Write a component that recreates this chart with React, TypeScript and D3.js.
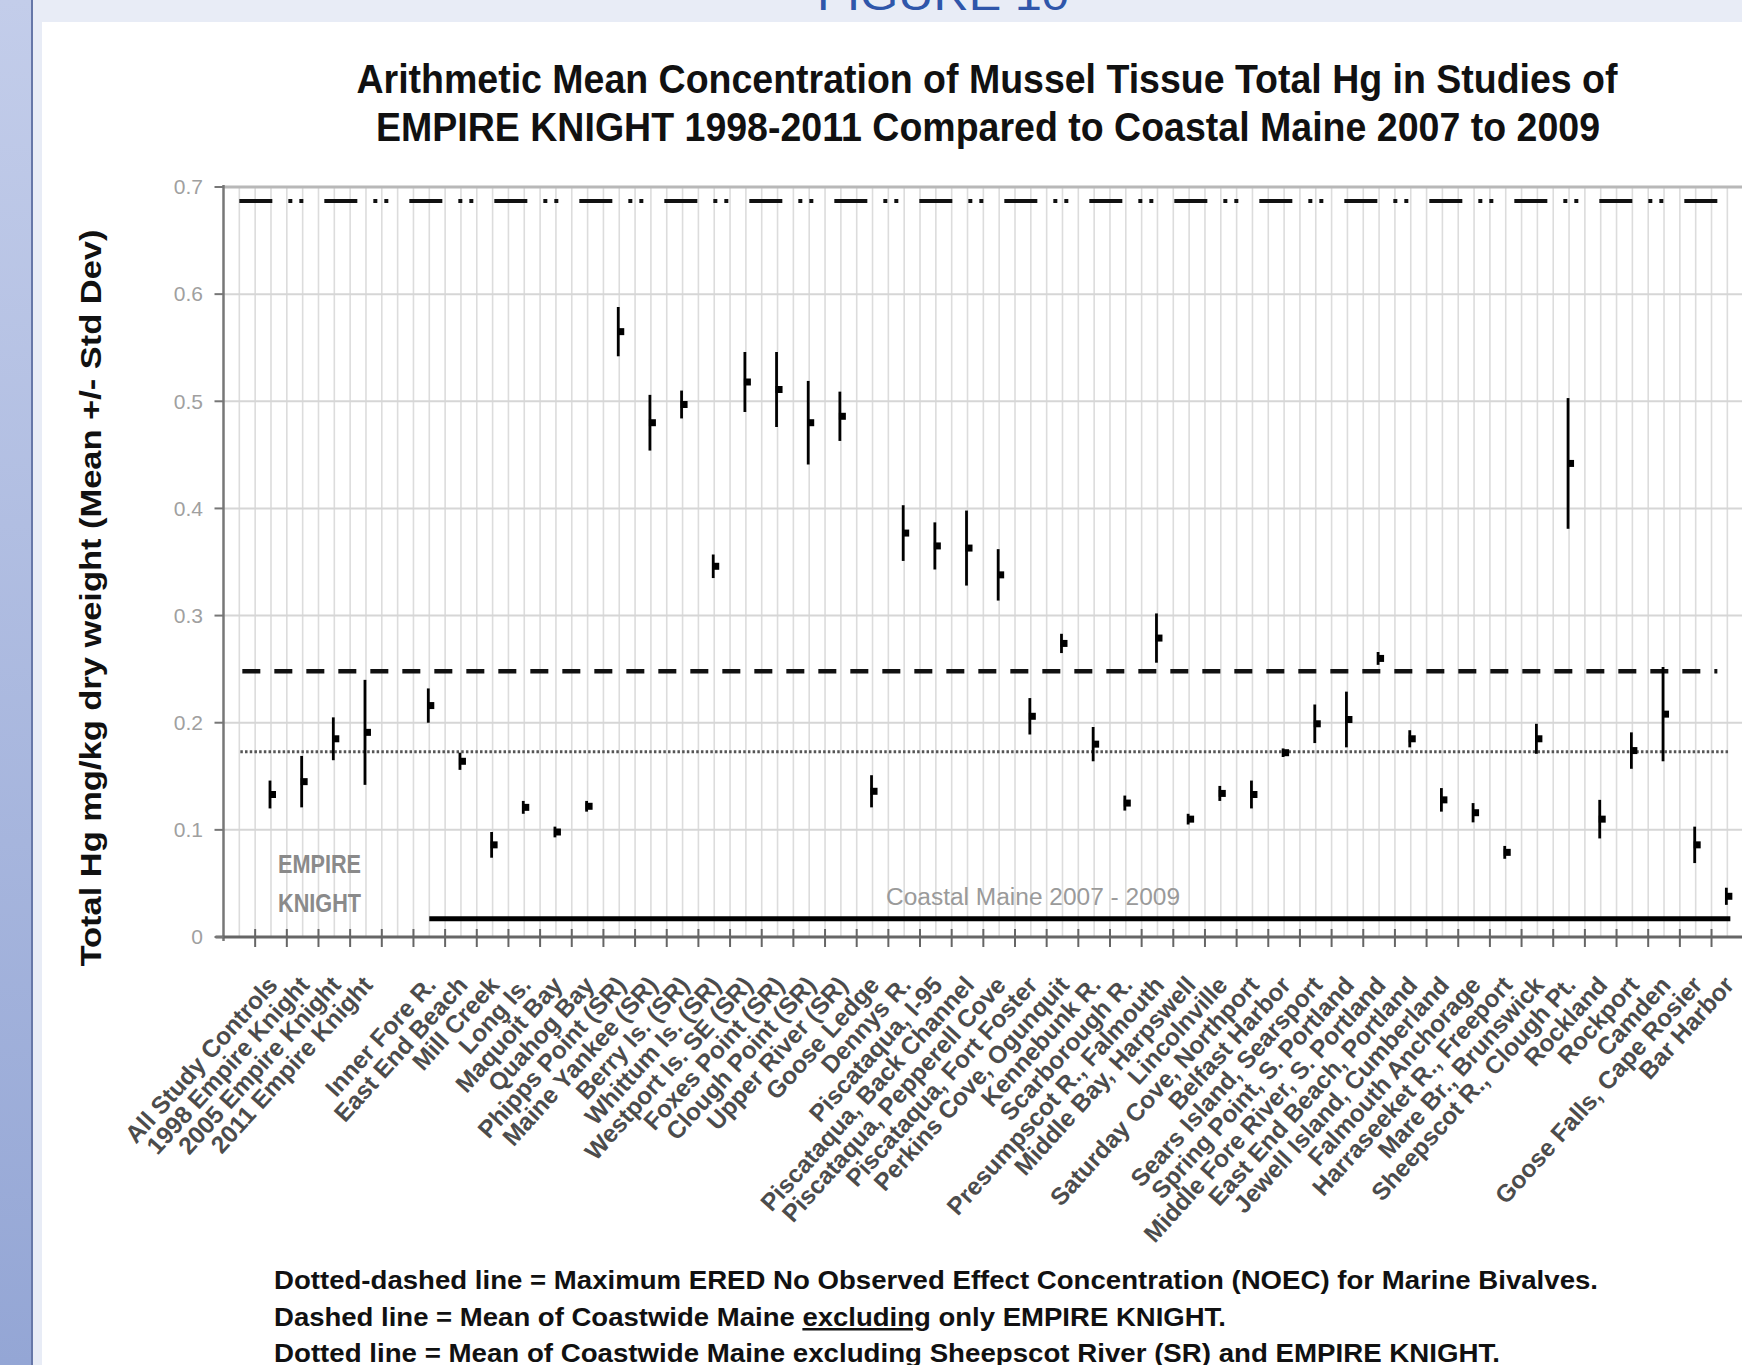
import React, { useRef, useEffect } from "react";
import * as d3 from "d3";

// Empire Knight study group (left block)
const empireSites = ["All Study Controls", "1998 Empire Knight", "2005 Empire Knight", "2011 Empire Knight"];
const empireMeans = [0.133, 0.145, 0.185, 0.191];
const empireSds = [0.013, 0.024, 0.02, 0.049];

// Coastal Maine 2007 - 2009 sites
const coastalSites = [
  "Inner Fore R.", "East End Beach", "Mill Creek", "Long Is.", "Maquoit Bay", "Quahog Bay",
  "Phipps Point (SR)", "Maine Yankee (SR)", "Berry Is. (SR)", "Whittum Is. (SR)", "Westport Is. SE (SR)",
  "Foxes Point (SR)", "Clough Point (SR)", "Upper River (SR)", "Goose Ledge", "Dennys R.",
  "Piscataqua, I-95", "Piscataqua, Back Channel", "Piscataqua, Pepperell Cove", "Piscataqua, Fort Foster",
  "Perkins Cove, Ogunquit", "Kennebunk R.", "Scarborough R.", "Presumpscot R., Falmouth",
  "Middle Bay, Harpswell", "Lincolnville", "Saturday Cove, Northport", "Belfast Harbor",
  "Sears Island, Searsport", "Spring Point, S. Portland", "Middle Fore River, S. Portland",
  "East End Beach, Portland", "Jewell Island, Cumberland", "Falmouth Anchorage", "Harraseeket R., Freeport",
  "Mare Br., Brunswick", "Sheepscot R., Clough Pt.", "Rockland", "Rockport", "Camden",
  "Goose Falls, Cape Rosier", "Bar Harbor",
];
const coastalMeans = [
  0.216, 0.164, 0.086, 0.121, 0.098, 0.122,
  0.565, 0.48, 0.497, 0.346, 0.518,
  0.511, 0.48, 0.486, 0.136, 0.377,
  0.365, 0.363, 0.338, 0.206,
  0.274, 0.18, 0.125, 0.279,
  0.11, 0.134, 0.133, 0.172,
  0.199, 0.203, 0.26,
  0.185, 0.128, 0.116, 0.079,
  0.185, 0.442, 0.11, 0.174, 0.208,
  0.086, 0.038,
];
const coastalSds = [
  0.016, 0.008, 0.012, 0.006, 0.005, 0.005,
  0.023, 0.026, 0.013, 0.011, 0.028,
  0.035, 0.039, 0.023, 0.015, 0.026,
  0.022, 0.035, 0.024, 0.017,
  0.009, 0.016, 0.007, 0.023,
  0.005, 0.007, 0.013, 0.004,
  0.018, 0.026, 0.006,
  0.008, 0.011, 0.009, 0.006,
  0.014, 0.061, 0.018, 0.017, 0.044,
  0.017, 0.008,
];

const yTicks = [0, 0.1, 0.2, 0.3, 0.4, 0.5, 0.6, 0.7];

// reference levels
const noecLevel = 0.687;
const meanExclEK = 0.248;
const meanExclSR = 0.173;
const coastalBarLevel = 0.017;

const titleLines = [
  "Arithmetic Mean Concentration of Mussel Tissue Total Hg in Studies of",
  "EMPIRE KNIGHT 1998-2011 Compared to Coastal Maine 2007 to 2009",
];

const FONT = "'Liberation Sans', Arial, sans-serif";

const App: React.FC = () => {
  const ref = useRef<SVGSVGElement | null>(null);

  useEffect(() => {
    if (!ref.current) return;
    const svg = d3.select(ref.current);
    svg.selectAll("*").remove();

    const W = 1742;
    const H = 1365;

    // page frame: blue side bar + light header band
    const defs = svg.append("defs");
    const grad = defs.append("linearGradient").attr("id", "sidebar").attr("x1", 0).attr("y1", 0).attr("x2", 0).attr("y2", 1);
    grad.append("stop").attr("offset", "0%").attr("stop-color", "#c3cdea");
    grad.append("stop").attr("offset", "100%").attr("stop-color", "#94a6d5");

    svg.append("rect").attr("width", W).attr("height", H).attr("fill", "#ffffff");
    svg.append("rect").attr("x", 33).attr("y", 0).attr("width", W - 33).attr("height", 22).attr("fill", "#e8ecf6");
    svg.append("rect").attr("x", 33).attr("y", 0).attr("width", 9).attr("height", H).attr("fill", "#e8ecf6");
    svg.append("rect").attr("x", 0).attr("y", 0).attr("width", 31).attr("height", H).attr("fill", "url(#sidebar)");
    svg.append("rect").attr("x", 31).attr("y", 0).attr("width", 2).attr("height", H).attr("fill", "#6677a8");

    svg.append("text")
      .attr("x", 943).attr("y", 10)
      .attr("text-anchor", "middle")
      .attr("font-family", FONT).attr("font-size", 42)
      .attr("fill", "#2f56aa")
      .attr("textLength", 252).attr("lengthAdjust", "spacingAndGlyphs")
      .text("FIGURE 10");

    // title
    const titleSpec = [
      { y: 93, len: 1261, cx: 987 },
      { y: 141, len: 1224, cx: 988 },
    ];
    titleLines.forEach((t, i) => {
      svg.append("text")
        .attr("x", titleSpec[i].cx).attr("y", titleSpec[i].y)
        .attr("text-anchor", "middle")
        .attr("font-family", FONT).attr("font-weight", "bold").attr("font-size", 40)
        .attr("fill", "#111")
        .attr("textLength", titleSpec[i].len).attr("lengthAdjust", "spacingAndGlyphs")
        .text(t);
    });

    // scales
    const slots = ["gap0", ...empireSites, "gap1", ...coastalSites];
    const x = d3.scaleBand<string>().domain(slots).range([223.5, 223.5 + slots.length * 31.66]).padding(0);
    const y = d3.scaleLinear().domain([0, 0.7]).range([937, 187]);
    const bw = x.bandwidth();
    const cx = (s: string) => (x(s) as number) + bw / 2;
    const x0 = x.range()[0];
    const x1 = x.range()[1];

    const plot = svg.append("g");

    // vertical gridlines every half category
    const vLines: number[] = [];
    slots.forEach((s) => {
      vLines.push(x(s) as number);
      vLines.push(cx(s));
    });
    plot.append("g").selectAll("line").data(vLines.slice(1)).join("line")
      .attr("x1", (d) => d).attr("x2", (d) => d)
      .attr("y1", y(0.7)).attr("y2", y(0))
      .attr("stroke", "#dcdcdc").attr("stroke-width", 1.6);

    // horizontal gridlines
    plot.append("g").selectAll("line").data(yTicks.slice(1)).join("line")
      .attr("x1", x0).attr("x2", x1)
      .attr("y1", (d) => y(d)).attr("y2", (d) => y(d))
      .attr("stroke", (d) => (d === 0.7 ? "#b8b8b8" : "#d6d6d6"))
      .attr("stroke-width", (d) => (d === 0.7 ? 3 : 2));

    // axes
    plot.append("line").attr("x1", x0).attr("x2", x0).attr("y1", y(0.7) - 2).attr("y2", y(0) + 4)
      .attr("stroke", "#777").attr("stroke-width", 2.5);
    plot.append("line").attr("x1", x0 - 8).attr("x2", x1).attr("y1", y(0)).attr("y2", y(0))
      .attr("stroke", "#666").attr("stroke-width", 3);

    plot.append("g").selectAll("line").data(yTicks).join("line")
      .attr("x1", x0 - 9).attr("x2", x0)
      .attr("y1", (d) => y(d)).attr("y2", (d) => y(d))
      .attr("stroke", "#777").attr("stroke-width", 2);

    const xTicks = slots.map((s) => x(s) as number).slice(1);
    plot.append("g").selectAll("line").data(xTicks).join("line")
      .attr("x1", (d) => d).attr("x2", (d) => d)
      .attr("y1", y(0) - 8).attr("y2", y(0) + 10)
      .attr("stroke", "#666").attr("stroke-width", 2);

    // y tick labels
    svg.append("g").selectAll("text").data(yTicks).join("text")
      .attr("x", 203).attr("y", (d) => y(d))
      .attr("dy", "0.35em")
      .attr("text-anchor", "end")
      .attr("font-family", FONT).attr("font-size", 21)
      .attr("fill", "#a0a0a0")
      .text((d) => (d === 0 ? "0" : d3.format(".1f")(d)));

    // y axis title
    svg.append("text")
      .attr("transform", `translate(101,598) rotate(-90)`)
      .attr("text-anchor", "middle")
      .attr("font-family", FONT).attr("font-weight", "bold").attr("font-size", 29)
      .attr("fill", "#111")
      .attr("textLength", 737).attr("lengthAdjust", "spacingAndGlyphs")
      .text("Total Hg mg/kg dry weight (Mean +/- Std Dev)");

    // reference lines
    const firstC = cx("gap0");
    const lastC = cx(coastalSites[coastalSites.length - 1]);
    plot.append("line")
      .attr("x1", firstC).attr("x2", lastC)
      .attr("y1", y(noecLevel)).attr("y2", y(noecLevel))
      .attr("stroke", "#111").attr("stroke-width", 4)
      .attr("stroke-dasharray", "33,16,4,7,4,21");
    plot.append("line")
      .attr("x1", firstC + 3).attr("x2", lastC - 10)
      .attr("y1", y(meanExclEK)).attr("y2", y(meanExclEK))
      .attr("stroke", "#111").attr("stroke-width", 4.5)
      .attr("stroke-dasharray", "18,14");
    plot.append("line")
      .attr("x1", firstC + 1).attr("x2", lastC + 2)
      .attr("y1", y(meanExclSR)).attr("y2", y(meanExclSR))
      .attr("stroke", "#555").attr("stroke-width", 3)
      .attr("stroke-dasharray", "2.5,2.2");

    // coastal Maine bar
    plot.append("line")
      .attr("x1", cx(coastalSites[0])).attr("x2", lastC + 3)
      .attr("y1", y(coastalBarLevel)).attr("y2", y(coastalBarLevel))
      .attr("stroke", "#000").attr("stroke-width", 5);
    svg.append("text")
      .attr("x", 1033).attr("y", 905)
      .attr("text-anchor", "middle")
      .attr("font-family", FONT).attr("font-size", 23)
      .attr("fill", "#9a9a9a")
      .attr("textLength", 294).attr("lengthAdjust", "spacingAndGlyphs")
      .text("Coastal Maine 2007 - 2009");

    ["EMPIRE", "KNIGHT"].forEach((t, i) => {
      svg.append("text")
        .attr("x", 278).attr("y", 873 + i * 39)
        .attr("font-family", FONT).attr("font-weight", "bold").attr("font-size", 26)
        .attr("fill", "#8a8a8a")
        .attr("textLength", 83).attr("lengthAdjust", "spacingAndGlyphs")
        .text(t);
    });

    // error bars + means
    const points = [
      ...empireSites.map((s, i) => ({ site: s, mean: empireMeans[i], sd: empireSds[i] })),
      ...coastalSites.map((s, i) => ({ site: s, mean: coastalMeans[i], sd: coastalSds[i] })),
    ];
    const pts = plot.append("g").selectAll("g").data(points).join("g");
    pts.append("line")
      .attr("x1", (d) => cx(d.site) - 1).attr("x2", (d) => cx(d.site) - 1)
      .attr("y1", (d) => y(d.mean + d.sd)).attr("y2", (d) => y(d.mean - d.sd))
      .attr("stroke", "#000").attr("stroke-width", 2.8);
    pts.append("rect")
      .attr("x", (d) => cx(d.site) - 2).attr("y", (d) => y(d.mean) - 3.5)
      .attr("width", 7).attr("height", 7)
      .attr("fill", "#000");

    // x labels
    svg.append("g").selectAll("text").data(points).join("text")
      .attr("transform", (d) => `translate(${cx(d.site) + 8},986) rotate(-48)`)
      .attr("text-anchor", "end")
      .attr("font-family", FONT).attr("font-weight", "bold").attr("font-size", 24.5)
      .attr("fill", "#4c4c4c")
      .text((d) => d.site);

    // footnotes
    const notes = svg.append("g")
      .attr("font-family", FONT).attr("font-weight", "bold").attr("font-size", 25).attr("fill", "#111");
    notes.append("text").attr("x", 274).attr("y", 1289)
      .attr("textLength", 1324).attr("lengthAdjust", "spacingAndGlyphs")
      .text("Dotted-dashed line = Maximum ERED No Observed Effect Concentration (NOEC)  for Marine Bivalves.");
    const n2 = notes.append("text").attr("x", 274).attr("y", 1326)
      .attr("textLength", 952).attr("lengthAdjust", "spacingAndGlyphs");
    n2.append("tspan").text("Dashed line = Mean of Coastwide Maine ");
    n2.append("tspan").attr("text-decoration", "underline").text("excluding");
    n2.append("tspan").text(" only EMPIRE KNIGHT.");
    notes.append("text").attr("x", 274).attr("y", 1362)
      .attr("textLength", 1226).attr("lengthAdjust", "spacingAndGlyphs")
      .text("Dotted line =  Mean of Coastwide Maine excluding Sheepscot River (SR) and EMPIRE KNIGHT.");
  }, []);

  return (
    <svg
      ref={ref}
      width={1742}
      height={1365}
      style={{ position: "absolute", left: 0, top: 0, display: "block", overflow: "hidden" }}
    ></svg>
  );
};

export default App;
